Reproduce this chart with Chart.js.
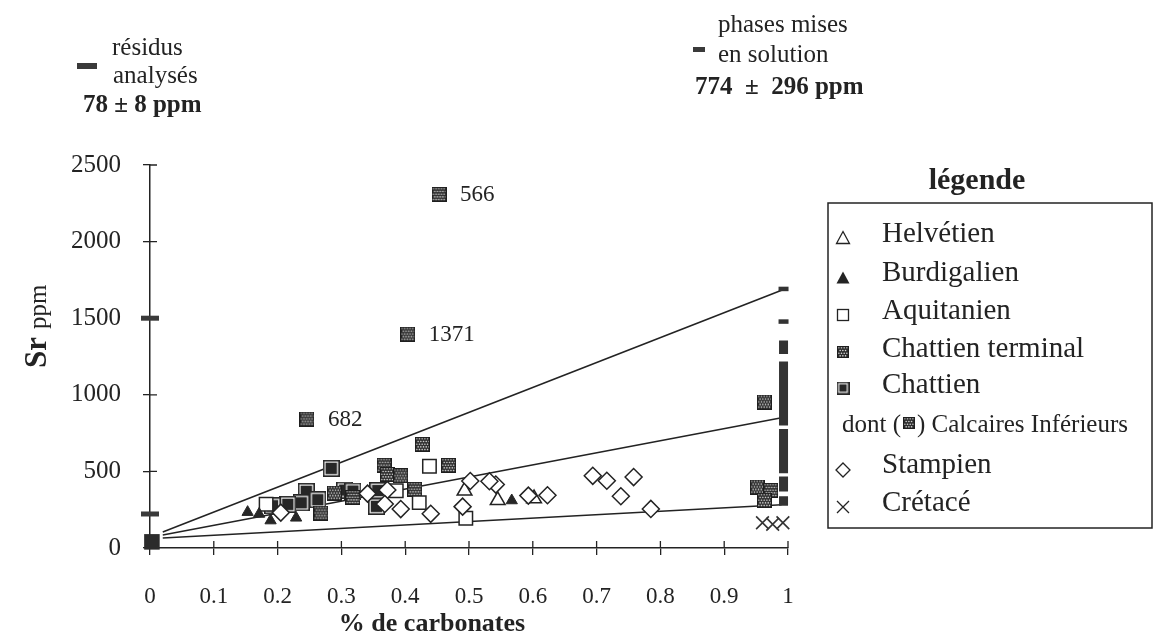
<!DOCTYPE html>
<html>
<head>
<meta charset="utf-8">
<script src="https://cdn.jsdelivr.net/npm/chart.js"></script>
<style>
  html, body { margin: 0; padding: 0; background: #fff; }
</style>
</head>
<body>
<canvas id="myChart" width="1157" height="637"></canvas>
<script>
// ---- data ----
const xTickLabels = ['0', '0.1', '0.2', '0.3', '0.4', '0.5', '0.6', '0.7', '0.8', '0.9', '1'];
const yTickStep = 500;

const helvetienX = [0.493, 0.545, 0.602];
const helvetienY = [373, 311, 323];

const burdigalienX = [0.153, 0.171, 0.189, 0.229, 0.567];
const burdigalienY = [234, 222, 179, 197, 310];

const aquitanienX = [0.438, 0.386, 0.422, 0.495, 0.182];
const aquitanienY = [534, 374, 296, 194, 286];

const chattienTermX = [0.367, 0.372, 0.393, 0.427, 0.468, 0.415, 0.268, 0.289, 0.318, 0.963, 0.952, 0.973, 0.963];
const chattienTermY = [540, 480, 471, 676, 539, 383, 228, 358, 330, 953, 398, 376, 311];

const calcairesX = [0.453, 0.404, 0.246];
const calcairesY = [2308, 1396, 842];
const calcairesLabels = ['566', '1371', '682'];

const chattienX = [0.284, 0.245, 0.263, 0.237, 0.216, 0.192, 0.305, 0.318, 0.355, 0.357];
const chattienY = [520, 370, 315, 295, 285, 276, 378, 372, 272, 375];

const stampienX = [0.205, 0.341, 0.372, 0.368, 0.393, 0.44, 0.502, 0.49, 0.542, 0.532, 0.593, 0.623, 0.694, 0.716, 0.758, 0.738, 0.785];
const stampienY = [231, 355, 379, 287, 254, 223, 437, 270, 414, 436, 342, 344, 471, 439, 463, 338, 255];

const cretaceX = [0.96, 0.976, 0.992];
const cretaceY = [165, 155, 165];

// mixing lines: start and end points
const lineNames = ['haut', 'milieu', 'bas'];
const lineStartX = [0.02, 0.02, 0.02];
const lineStartY = [105, 85, 65];
const lineEndX = [0.995, 0.99, 0.99];
const lineEndY = [1690, 850, 282];

// "résidus analysés" marks on the y axis
const residuSquareX = [0.003];
const residuSquareY = [40];
const residuDashX = [0, 0];
const residuDashY = [1500, 222];

// "phases mises en solution" bar at x = 1
const barX = 0.993;
const barLow = [276, 368, 488, 799, 1267];
const barHigh = [338, 466, 777, 1217, 1354];
const phaseDashX = [0.993, 0.993];
const phaseDashY = [1478, 1691];

// ---- helpers ----
const ink = '#232323';
const serif = '"Liberation Serif", "DejaVu Serif", serif';
const pts = (xs, ys) => xs.map((x, i) => ({ x: x, y: ys[i] }));

function stipple(size) {
  const c = document.createElement('canvas');
  c.width = c.height = size;
  const g = c.getContext('2d');
  g.fillStyle = '#2e2e2e';
  g.fillRect(0, 0, size, size);
  g.fillStyle = '#dcdcdc';
  let row = 0;
  for (let yy = 1.8; yy < size - 0.8; yy += 2.7, row++) {
    for (let xx = 1.8 + (row % 2) * 1.35; xx < size - 0.8; xx += 2.7) {
      g.beginPath();
      g.arc(xx, yy, 0.8, 0, Math.PI * 2);
      g.fill();
    }
  }
  g.strokeStyle = '#1e1e1e';
  g.lineWidth = 1.2;
  g.strokeRect(0.6, 0.6, size - 1.2, size - 1.2);
  return c;
}

function framed(size) {
  const c = document.createElement('canvas');
  c.width = c.height = size;
  const g = c.getContext('2d');
  g.fillStyle = '#272727';
  g.fillRect(0, 0, size, size);
  g.strokeStyle = '#f4f4f4';
  g.lineWidth = 1.2;
  g.strokeRect(2.2, 2.2, size - 4.4, size - 4.4);
  return c;
}

const stippleBig = stipple(15);
const stippleSmall = stipple(15);
const framedBig = framed(17);

// ---- datasets ----
const datasets = [];

datasets.push({
  label: 'Crétacé', data: pts(cretaceX, cretaceY), order: 1,
  pointStyle: 'crossRot', pointRadius: 9, borderColor: '#333', borderWidth: 1.6,
  backgroundColor: '#333'
});
datasets.push({
  label: 'Stampien', data: pts(stampienX, stampienY), order: 2,
  pointStyle: 'rectRot', pointRadius: 8.5, borderColor: ink, borderWidth: 1.5,
  backgroundColor: '#fff'
});
datasets.push({
  label: 'Helvétien', data: pts(helvetienX, helvetienY), order: 3,
  pointStyle: 'triangle', pointRadius: 8.5, borderColor: ink, borderWidth: 1.5,
  backgroundColor: '#fff'
});
datasets.push({
  label: 'Burdigalien', data: pts(burdigalienX, burdigalienY), order: 4,
  pointStyle: 'triangle', pointRadius: 6.5, borderColor: '#262626', borderWidth: 1,
  backgroundColor: '#262626'
});
datasets.push({
  label: 'Aquitanien', data: pts(aquitanienX, aquitanienY), order: 5,
  pointStyle: 'rect', pointRadius: 9.5, borderColor: ink, borderWidth: 1.5,
  backgroundColor: '#fff'
});
datasets.push({
  label: 'Chattien terminal', data: pts(chattienTermX, chattienTermY), order: 6,
  pointStyle: stippleBig
});
datasets.push({
  label: 'Calcaires Inférieurs', data: pts(calcairesX, calcairesY), order: 7,
  pointStyle: stippleSmall
});
datasets.push({
  label: 'Chattien', data: pts(chattienX, chattienY), order: 8,
  pointStyle: framedBig
});
datasets.push({
  label: 'résidus', data: pts(residuSquareX, residuSquareY), order: 9,
  pointStyle: 'rect', pointRadius: 11, borderColor: '#2b2b2b', backgroundColor: '#2b2b2b', borderWidth: 0
});
datasets.push({
  label: 'résidus tirets', data: pts(residuDashX, residuDashY), order: 10,
  pointStyle: 'line', pointRadius: 9, borderColor: '#3a3a3a', borderWidth: 5
});
const barData = [];
barLow.forEach((lo, i) => {
  barData.push({ x: barX, y: lo }, { x: barX, y: barHigh[i] }, { x: barX, y: null });
});
datasets.push({
  label: 'phases', data: barData, order: 11, showLine: true, spanGaps: false,
  pointRadius: 0, borderColor: '#333', borderWidth: 9, borderCapStyle: 'butt'
});
datasets.push({
  label: 'phases tirets', data: pts(phaseDashX, phaseDashY), order: 12,
  pointStyle: 'line', pointRadius: 5, borderColor: '#333', borderWidth: 4.5
});
lineNames.forEach((n, i) => {
  datasets.push({
    label: 'droite ' + n,
    data: [{ x: lineStartX[i], y: lineStartY[i] }, { x: lineEndX[i], y: lineEndY[i] }],
    order: 20 + i, showLine: true, pointRadius: 0, borderColor: ink, borderWidth: 1.6
  });
});
datasets.forEach(d => { d.clip = false; });

// ---- decorations: titles, notes, legend, inner tick halves ----
function drawLegendSymbol(ctx, kind, x, y) {
  ctx.save();
  ctx.strokeStyle = ink;
  ctx.fillStyle = ink;
  ctx.lineWidth = 1.3;
  if (kind === 'triOpen' || kind === 'triFull') {
    ctx.beginPath();
    ctx.moveTo(x, y - 6.5);
    ctx.lineTo(x + 6.5, y + 5.5);
    ctx.lineTo(x - 6.5, y + 5.5);
    ctx.closePath();
    if (kind === 'triFull') ctx.fill(); else ctx.stroke();
  } else if (kind === 'square') {
    ctx.strokeRect(x - 5.5, y - 5.5, 11, 11);
  } else if (kind === 'stipple') {
    ctx.drawImage(stipple(12), x - 6, y - 6);
  } else if (kind === 'framed') {
    ctx.drawImage(framed(13), x - 6.5, y - 6.5);
  } else if (kind === 'diamond') {
    ctx.beginPath();
    ctx.moveTo(x, y - 7); ctx.lineTo(x + 7, y); ctx.lineTo(x, y + 7); ctx.lineTo(x - 7, y);
    ctx.closePath();
    ctx.stroke();
  } else if (kind === 'cross') {
    ctx.beginPath();
    ctx.moveTo(x - 6, y - 6); ctx.lineTo(x + 6, y + 6);
    ctx.moveTo(x + 6, y - 6); ctx.lineTo(x - 6, y + 6);
    ctx.stroke();
  }
  ctx.restore();
}

const legendRows = [
  { kind: 'triOpen', text: 'Helvétien', sy: 238, base: 242 },
  { kind: 'triFull', text: 'Burdigalien', sy: 278, base: 281 },
  { kind: 'square', text: 'Aquitanien', sy: 315, base: 319 },
  { kind: 'stipple', text: 'Chattien terminal', sy: 352, base: 357 },
  { kind: 'framed', text: 'Chattien', sy: 388, base: 393 },
  { kind: 'diamond', text: 'Stampien', sy: 470, base: 473 },
  { kind: 'cross', text: 'Crétacé', sy: 507, base: 511 }
];

const decor = {
  id: 'decor',
  beforeDatasetsDraw(chart) {
    const ctx = chart.ctx;
    const xs = chart.scales.x, ys = chart.scales.y;
    ctx.save();
    ctx.strokeStyle = ink;
    ctx.lineWidth = 1.3;
    ctx.beginPath();
    xs.ticks.forEach((t, i) => {
      const px = xs.getPixelForTick(i);
      ctx.moveTo(px, xs.top);
      ctx.lineTo(px, xs.top - 7);
    });
    ys.ticks.forEach((t, i) => {
      const py = ys.getPixelForTick(i);
      ctx.moveTo(ys.right, py);
      ctx.lineTo(ys.right + 7, py);
    });
    ctx.stroke();
    ctx.restore();
  },
  afterDraw(chart) {
    const ctx = chart.ctx;
    ctx.save();
    ctx.fillStyle = ink;
    ctx.textBaseline = 'alphabetic';
    ctx.textAlign = 'left';

    // header notes
    ctx.fillStyle = '#3a3a3a';
    ctx.fillRect(77, 63, 20, 6);
    ctx.fillRect(693, 47, 12, 5);
    ctx.fillStyle = ink;
    ctx.font = '25px ' + serif;
    ctx.fillText('résidus', 112, 55);
    ctx.fillText('analysés', 113, 83);
    ctx.fillText('phases mises', 718, 32);
    ctx.fillText('en solution', 718, 62);
    ctx.font = 'bold 25px ' + serif;
    ctx.fillText('78 ± 8 ppm', 83, 112);
    ctx.fillText('774  ±  296 ppm', 695, 94);

    // axis titles
    ctx.font = 'bold 26px ' + serif;
    ctx.textAlign = 'center';
    ctx.fillText('% de carbonates', 432, 631);
    ctx.save();
    ctx.translate(46, 368);
    ctx.rotate(-Math.PI / 2);
    ctx.textAlign = 'left';
    ctx.font = 'bold 31px ' + serif;
    ctx.fillText('Sr', 0, 0);
    const w = ctx.measureText('Sr').width;
    ctx.font = '25px ' + serif;
    ctx.fillText('ppm', w + 8, 0);
    ctx.restore();

    // labels of the Calcaires Inférieurs points
    const meta = chart.getDatasetMeta(datasets.findIndex(d => d.label === 'Calcaires Inférieurs'));
    ctx.font = '23px ' + serif;
    ctx.textAlign = 'left';
    ctx.textBaseline = 'middle';
    meta.data.forEach((el, i) => {
      ctx.fillText(calcairesLabels[i], el.x + 21, el.y + 1);
    });

    // legend
    ctx.textBaseline = 'alphabetic';
    ctx.textAlign = 'center';
    ctx.font = 'bold 30px ' + serif;
    ctx.fillText('légende', 977, 189);
    ctx.strokeStyle = ink;
    ctx.lineWidth = 1.5;
    ctx.strokeRect(828, 203, 324, 325);
    ctx.textAlign = 'left';
    ctx.font = '29px ' + serif;
    legendRows.forEach(r => {
      drawLegendSymbol(ctx, r.kind, 843, r.sy);
      ctx.fillText(r.text, 882, r.base);
    });
    ctx.font = '25px ' + serif;
    ctx.fillText('dont (', 842, 432);
    const w1 = ctx.measureText('dont (').width;
    ctx.drawImage(stipple(12), 842 + w1 + 2, 417);
    ctx.fillText(') Calcaires Inférieurs', 842 + w1 + 16, 432);
    ctx.restore();
  }
};

// ---- chart ----
const ctx = document.getElementById('myChart').getContext('2d');
new Chart(ctx, {
  type: 'scatter',
  data: { datasets: datasets },
  options: {
    responsive: false,
    animation: false,
    layout: { padding: { top: 165, right: 369, left: 0, bottom: 0 } },
    plugins: { legend: { display: false }, tooltip: { enabled: false } },
    scales: {
      x: {
        type: 'linear', min: 0, max: 1,
        afterFit(scale) { scale.height = 89; },
        border: { color: ink, width: 1.5 },
        grid: { display: true, drawOnChartArea: false, drawTicks: true, tickLength: 7, color: ink, lineWidth: 1.3 },
        ticks: {
          stepSize: 0.1, autoSkip: false, maxRotation: 0, padding: 28, color: ink,
          font: { family: serif, size: 23 },
          callback: (v, i) => xTickLabels[i] !== undefined ? xTickLabels[i] : v
        }
      },
      y: {
        type: 'linear', min: 0, max: 2500,
        afterFit(scale) { scale.width = 150; },
        border: { color: ink, width: 1.5 },
        grid: { display: true, drawOnChartArea: false, drawTicks: true, tickLength: 7, color: ink, lineWidth: 1.3 },
        ticks: {
          stepSize: yTickStep, padding: 22, color: ink,
          font: { family: serif, size: 25 },
          callback: v => String(v)
        }
      }
    }
  },
  plugins: [decor]
});
</script>
</body>
</html>
